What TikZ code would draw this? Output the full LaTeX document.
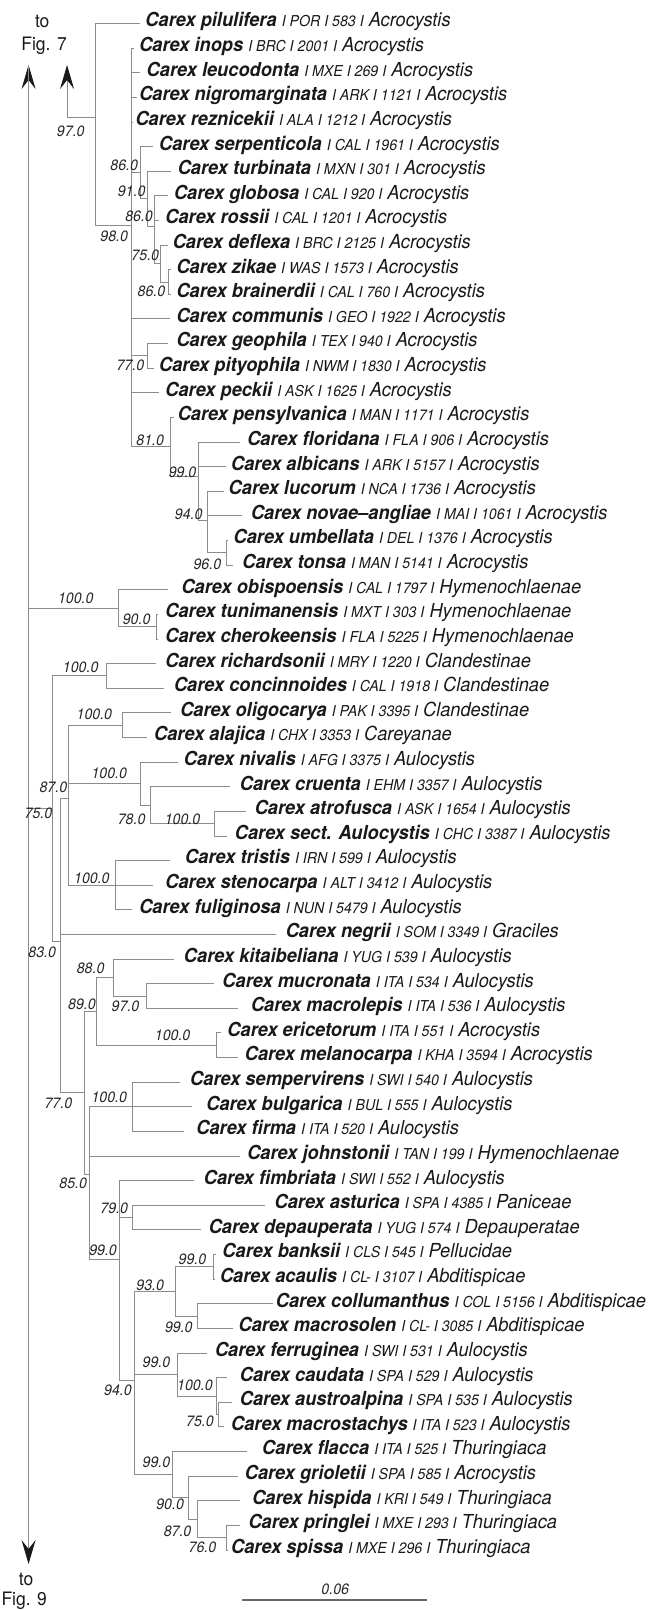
\documentclass[tikz,border=0pt]{standalone}
\usepackage{fontspec}
\setmainfont{TeX Gyre Heros}[FakeStretch=0.945]
\usetikzlibrary{arrows.meta}
\newcommand\smallf{\fontsize{15}{17}\selectfont\itshape}
\newcommand\inn[4]{\coordinate (#1) at (#2,{Y(#3)}); \draw[br] (#4) |- (#1);}
\newcommand\lf[9]{\coordinate (#1) at (#4,{Y(#2)}); \draw[br] (#3) |- (#1);
  \node[lf] (#1t) at (#5,{Y(#2)+3.4}) {{\bfseries\itshape #6} {\smallf I #7 I #8 I} {\itshape #9}};}
\newcommand\bl[5]{\node[bs] (#1) at (#2,{Y(#3)+(#4)}) {#5};}
\begin{document}
\begin{tikzpicture}[x=1.2418pt,y=-1pt,
  declare function={Y(\m)=23.5+24.62*(\m-1);},
  br/.style={draw=black!45, line width=0.9pt},
  lf/.style={anchor=base west, inner sep=0pt, text=black!90, font=\fontsize{19.3}{21}\selectfont},
  bs/.style={font=\smallf, inner sep=0pt, text=black!85},
  tf/.style={font=\fontsize{18.5}{20}\selectfont, inner sep=0pt, text=black!90},
  >={Stealth[length=24pt, width=14pt, inset=9pt, color=black!90]}]
\useasboundingbox (0,0) rectangle (522.63,1610);
% root lines and arrows
\coordinate (top1) at (23,65);
\coordinate (bot1) at (23,1564);
\coordinate (top2) at (54,65);
\draw[br, <->] (top1) -- (bot1);
\coordinate (nA) at (77,117);
\draw[br, <-] (top2) |- (nA);
\node[tf] (t7a) at (34,21) {to};
\node[tf] (t7b) at (35.5,46) {Fig. 7};
\node[tf] (t9a) at (21,1579) {to};
\node[tf] (t9b) at (19.5,1601) {Fig. 9};
% internal nodes
\inn{n98}{106}{9.1952}{nA}
\inn{n86a}{113}{7.0625}{n98}
\inn{n91}{119}{8.125}{n86a}
\inn{n86b}{124}{9.25}{n91}
\inn{n75a}{129}{10.75}{n86b}
\inn{n86c}{136}{11.5}{n75a}
\inn{n77a}{119}{14.5}{n98}
\inn{n81}{137}{18.1944}{n98}
\inn{n99a}{160}{19.3889}{n81}
\inn{n94a}{167}{21.1667}{n99a}
\inn{n96}{182}{22.5}{n94a}
\inn{n100a}{95}{24.75}{top1}
\inn{n90}{126}{25.5}{n100a}
\inn{n75}{42}{32.898}{top1}
\inn{n100b}{86}{27.5}{n75}
\inn{n83}{49}{38.2959}{n75}
\inn{n87}{55}{32.4583}{n83}
\inn{n100e}{99}{29.5}{n87}
\inn{n100f}{113}{31.875}{n87}
\inn{n78}{121}{32.75}{n100f}
\inn{n100h}{173}{33.5}{n78}
\inn{n100g}{93}{36}{n87}
\inn{n77b}{68}{44.4294}{n83}
\inn{n89}{78}{41.125}{n77b}
\inn{n88}{91}{39.75}{n89}
\inn{n97b}{118}{40.5}{n88}
\inn{n100c}{174}{42.5}{n89}
\inn{n85}{72}{47.7338}{n77b}
\inn{n100d}{107}{45}{n85}
\inn{n99b}{96}{51.2014}{n85}
\inn{n79}{107}{49.5}{n99b}
\inn{n94b}{108}{56.1042}{n99b}
\inn{n93}{141}{52.5}{n94b}
\inn{n99e}{172}{51.5}{n93}
\inn{n99f}{159}{53.5}{n93}
\inn{n99c}{143}{55.875}{n94b}
\inn{n100i}{174}{56.75}{n99c}
\inn{n75b}{176}{57.5}{n100i}
\inn{n99d}{139}{59.9375}{n94b}
\inn{n90b}{152}{60.875}{n99d}
\inn{n87b}{159}{61.75}{n90b}
\inn{n76}{182}{62.5}{n87b}
% leaves
\lf{l1}{1}{nA}{113}{117}{Carex pilulifera}{POR}{583}{Acrocystis}
\lf{l2}{2}{n98}{108}{112}{Carex inops}{BRC}{2001}{Acrocystis}
\lf{l3}{3}{n98}{113}{118}{Carex leucodonta}{MXE}{269}{Acrocystis}
\lf{l4}{4}{n98}{110}{112}{Carex nigromarginata}{ARK}{1121}{Acrocystis}
\lf{l5}{5}{n98}{107}{109}{Carex reznicekii}{ALA}{1212}{Acrocystis}
\lf{l6}{6}{n86a}{123}{128}{Carex serpenticola}{CAL}{1961}{Acrocystis}
\lf{l7}{7}{n91}{138}{143}{Carex turbinata}{MXN}{301}{Acrocystis}
\lf{l8}{8}{n86b}{135}{140}{Carex globosa}{CAL}{920}{Acrocystis}
\lf{l9}{9}{n86b}{128}{133}{Carex rossii}{CAL}{1201}{Acrocystis}
\lf{l10}{10}{n75a}{135}{139}{Carex deflexa}{BRC}{2125}{Acrocystis}
\lf{l11}{11}{n86c}{138}{142}{Carex zikae}{WAS}{1573}{Acrocystis}
\lf{l12}{12}{n86c}{138}{142}{Carex brainerdii}{CAL}{760}{Acrocystis}
\lf{l13}{13}{n98}{137}{142}{Carex communis}{GEO}{1922}{Acrocystis}
\lf{l14}{14}{n77a}{135}{142}{Carex geophila}{TEX}{940}{Acrocystis}
\lf{l15}{15}{n77a}{124}{128}{Carex pityophila}{NWM}{1830}{Acrocystis}
\lf{l16}{16}{n98}{128}{133}{Carex peckii}{ASK}{1625}{Acrocystis}
\lf{l17}{17}{n81}{140}{143}{Carex pensylvanica}{MAN}{1171}{Acrocystis}
\lf{l18}{18}{n99a}{193}{199}{Carex floridana}{FLA}{906}{Acrocystis}
\lf{l19}{19}{n99a}{182}{186}{Carex albicans}{ARK}{5157}{Acrocystis}
\lf{l20}{20}{n94a}{180}{184}{Carex lucorum}{NCA}{1736}{Acrocystis}
\lf{l21}{21}{n94a}{195}{202}{Carex novae--angliae}{MAI}{1061}{Acrocystis}
\lf{l22}{22}{n96}{184}{188}{Carex umbellata}{DEL}{1376}{Acrocystis}
\lf{l23}{23}{n96}{188}{195}{Carex tonsa}{MAN}{5141}{Acrocystis}
\lf{l24}{24}{n100a}{135}{146}{Carex obispoensis}{CAL}{1797}{Hymenochlaenae}
\lf{l25}{25}{n90}{127}{133}{Carex tunimanensis}{MXT}{303}{Hymenochlaenae}
\lf{l26}{26}{n90}{127}{133}{Carex cherokeensis}{FLA}{5225}{Hymenochlaenae}
\lf{l27}{27}{n100b}{126}{133}{Carex richardsonii}{MRY}{1220}{Clandestinae}
\lf{l28}{28}{n100b}{132}{140}{Carex concinnoides}{CAL}{1918}{Clandestinae}
\lf{l29}{29}{n100e}{138}{145}{Carex oligocarya}{PAK}{3395}{Clandestinae}
\lf{l30}{30}{n100e}{118}{124}{Carex alajica}{CHX}{3353}{Careyanae}
\lf{l31}{31}{n100f}{143}{148}{Carex nivalis}{AFG}{3375}{Aulocystis}
\lf{l32}{32}{n78}{185}{193}{Carex cruenta}{EHM}{3357}{Aulocystis}
\lf{l33}{33}{n100h}{198}{205}{Carex atrofusca}{ASK}{1654}{Aulocystis}
\lf{l34}{34}{n100h}{183}{189}{Carex sect. Aulocystis}{CHC}{3387}{Aulocystis}
\lf{l35}{35}{n100g}{137}{149}{Carex tristis}{IRN}{599}{Aulocystis}
\lf{l36}{36}{n100g}{123}{133}{Carex stenocarpa}{ALT}{3412}{Aulocystis}
\lf{l37}{37}{n100g}{106}{112}{Carex fuliginosa}{NUN}{5479}{Aulocystis}
\lf{l38}{38}{n83}{222}{230}{Carex negrii}{SOM}{3349}{Graciles}
\lf{l39}{39}{n88}{140}{148}{Carex kitaibeliana}{YUG}{539}{Aulocystis}
\lf{l40}{40}{n97b}{172}{179}{Carex mucronata}{ITA}{534}{Aulocystis}
\lf{l41}{41}{n97b}{192}{202}{Carex macrolepis}{ITA}{536}{Aulocystis}
\lf{l42}{42}{n100c}{178}{183}{Carex ericetorum}{ITA}{551}{Acrocystis}
\lf{l43}{43}{n100c}{192}{197}{Carex melanocarpa}{KHA}{3594}{Acrocystis}
\lf{l44}{44}{n100d}{145}{153}{Carex sempervirens}{SWI}{540}{Aulocystis}
\lf{l45}{45}{n100d}{155}{166}{Carex bulgarica}{BUL}{555}{Aulocystis}
\lf{l46}{46}{n100d}{148}{158}{Carex firma}{ITA}{520}{Aulocystis}
\lf{l47}{47}{n85}{193}{199}{Carex johnstonii}{TAN}{199}{Hymenochlaenae}
\lf{l48}{48}{n99b}{156}{164}{Carex fimbriata}{SWI}{552}{Aulocystis}
\lf{l49}{49}{n79}{213}{221}{Carex asturica}{SPA}{4385}{Paniceae}
\lf{l50}{50}{n79}{162}{168}{Carex depauperata}{YUG}{574}{Depauperatae}
\lf{l51}{51}{n99e}{174}{179}{Carex banksii}{CLS}{545}{Pellucidae}
\lf{l52}{52}{n99e}{173}{177}{Carex acaulis}{CL-}{3107}{Abditispicae}
\lf{l53}{53}{n99f}{220}{222}{Carex collumanthus}{COL}{5156}{Abditispicae}
\lf{l54}{54}{n99f}{188}{192}{Carex macrosolen}{CL-}{3085}{Abditispicae}
\lf{l55}{55}{n99c}{167}{173}{Carex ferruginea}{SWI}{531}{Aulocystis}
\lf{l56}{56}{n100i}{183}{193}{Carex caudata}{SPA}{529}{Aulocystis}
\lf{l57}{57}{n75b}{187}{193}{Carex austroalpina}{SPA}{535}{Aulocystis}
\lf{l58}{58}{n75b}{180}{186}{Carex macrostachys}{ITA}{523}{Aulocystis}
\lf{l59}{59}{n99d}{199}{211}{Carex flacca}{ITA}{525}{Thuringiaca}
\lf{l60}{60}{n90b}{192}{197}{Carex grioletii}{SPA}{585}{Acrocystis}
\lf{l61}{61}{n87b}{193}{203}{Carex hispida}{KRI}{549}{Thuringiaca}
\lf{l62}{62}{n76}{193}{200}{Carex pringlei}{MXE}{293}{Thuringiaca}
\lf{l63}{63}{n76}{184}{186}{Carex spissa}{MXE}{296}{Thuringiaca}
% bootstrap labels
\node[bs] (b1) at (57,131) {97.0};
\bl{b2}{100}{7.0625}{-7}{86.0}
\bl{b3}{106}{8.125}{-8}{91.0}
\bl{b4}{112}{9.25}{-10}{86.0}
\bl{b5}{117}{10.75}{-8}{75.0}
\bl{b6}{122}{11.5}{9.5}{86.0}
\bl{b7}{92}{9.1952}{11}{98.0}
\bl{b8}{105}{14.5}{9.5}{77.0}
\bl{b9}{121}{18.1944}{-7}{81.0}
\bl{b10}{147}{19.3889}{-4.4}{99.0}
\bl{b11}{152}{21.1667}{-6}{94.0}
\bl{b12}{167}{22.5}{11.5}{96.0}
\bl{b13}{61}{24.75}{-9.5}{100.0}
\bl{b14}{110}{25.5}{-7}{90.0}
\bl{b15}{65}{27.5}{-8.5}{100.0}
\bl{b16}{76}{29.5}{-10.5}{100.0}
\bl{b17}{88}{31.875}{-10}{100.0}
\bl{b18}{43}{32.4583}{-11}{87.0}
\bl{b19}{31}{32.898}{4.5}{75.0}
\bl{b20}{106}{32.75}{13.7}{78.0}
\bl{b21}{147}{33.5}{-4.5}{100.0}
\bl{b22}{74}{36}{-7.3}{100.0}
\bl{b23}{34}{38.2959}{10.6}{83.0}
\bl{b24}{73}{39.75}{-8.8}{88.0}
\bl{b25}{66}{41.125}{-6.6}{89.0}
\bl{b26}{101}{40.5}{10.5}{97.0}
\bl{b27}{139}{42.5}{-9.5}{100.0}
\bl{b28}{88}{45}{-10}{100.0}
\bl{b29}{47}{44.4294}{10.7}{77.0}
\bl{b30}{59}{47.7338}{9}{85.0}
\bl{b31}{92}{49.5}{-9.5}{79.0}
\bl{b32}{83}{51.2014}{-9}{99.0}
\bl{b33}{155}{51.5}{-7.5}{99.0}
\bl{b34}{121}{52.5}{-6.2}{93.0}
\bl{b35}{144}{53.5}{11}{99.0}
\bl{b36}{126}{55.875}{-12.5}{99.0}
\bl{b37}{95}{56.1042}{10.4}{94.0}
\bl{b38}{157}{56.75}{-10.3}{100.0}
\bl{b39}{161}{57.5}{6.5}{75.0}
\bl{b40}{126}{59.9375}{-12}{99.0}
\bl{b41}{137}{60.875}{6.5}{90.0}
\bl{b42}{143}{61.75}{12}{87.0}
\bl{b43}{163}{62.5}{10}{76.0}
% scale bar
\coordinate (sb1) at (195,1600);
\coordinate (sb2) at (344,1600);
\draw[draw=black!60, line width=1.2pt] (sb1) -- (sb2);
\node[bs] (sbl) at (270,1589) {0.06};
\end{tikzpicture}
\end{document}
